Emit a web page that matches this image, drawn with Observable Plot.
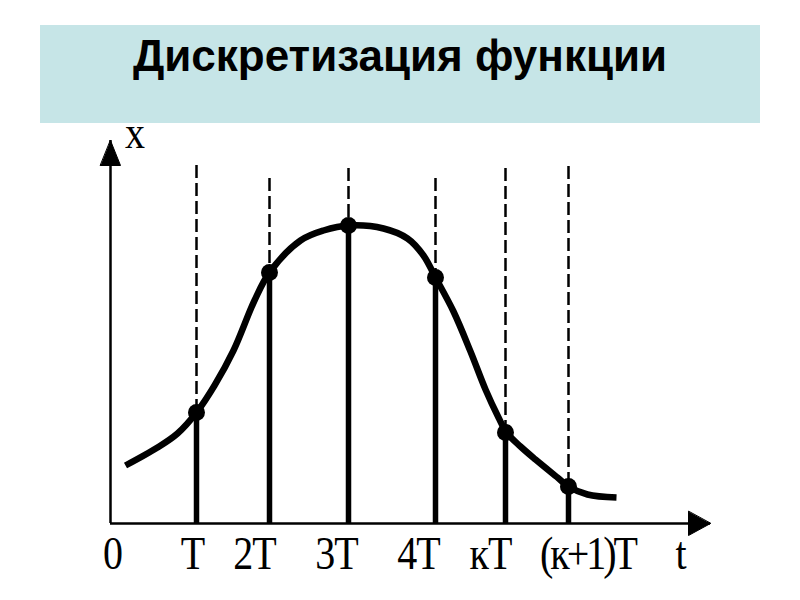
<!DOCTYPE html>
<html><head><meta charset="utf-8">
<script src="https://cdn.jsdelivr.net/npm/d3@7"></script>
<script src="https://cdn.jsdelivr.net/npm/@observablehq/plot@0.6"></script>
<style>
body{margin:0;background:#fff;width:800px;height:600px;overflow:hidden;position:relative}
#title{position:absolute;left:40px;top:25px;width:720px;height:92px;padding-top:6px;line-height:92px;background:#c6e5e7;text-align:center;font:bold 44px "Liberation Sans",Arial,sans-serif;color:#000;white-space:nowrap}
#chart svg{display:block}
</style></head><body>
<div id="chart"></div>
<div id="title">Дискретизация функции</div>
<script>
// sample instants (t) and sampled values x(t)
const sampleTimes  = [86, 159, 238, 325, 395, 458];
const sampleValues = [111, 251, 298, 246, 91, 37];
const guideTops    = [358, 345, 355, 345, 355, 357];
// continuous function x(t)
const curveT = [15, 47, 67, 86, 104, 123, 144, 159, 190, 213, 239, 273, 297, 313, 325, 343, 360, 375, 388, 396, 410, 425, 447, 458, 477, 506];
const curveX = [58, 76, 90, 111, 138, 173, 223, 251, 283, 293, 298, 295, 285, 268, 246, 212, 172, 134, 106, 91, 77, 64, 46, 37, 29, 26];
// tick labels on the t axis
const tickLabels    = ["0", "T", "2T", "3T", "4T", "кT", "(к+1)T"];
const tickPositions = [2, 82, 144, 226, 308, 380, 477];
const tDomain = [0, 600];
const xDomain = [0, 383];

const samples = sampleTimes.map((t, i) => ({t, v: sampleValues[i], top: guideTops[i]}));
const curve = curveT.map((t, i) => ({t, x: curveX[i]}));
const ticks = tickLabels.map((label, i) => ({label, pos: tickPositions[i]}));

const triangle = {
  draw(context, l, r) {
    context.moveTo(0, -l);
    context.lineTo(r, 0);
    context.lineTo(-r, 0);
    context.closePath();
  }
};

const serif = "'Liberation Serif','Times New Roman',serif";

const chart = Plot.plot({
  width: 800,
  height: 600,
  marginLeft: 110,
  marginRight: 90,
  marginTop: 140,
  marginBottom: 77,
  x: {domain: tDomain, axis: null},
  y: {domain: xDomain, axis: null},
  marks: [
    Plot.ruleX(samples, {x: "t", y1: "top", y2: 0, stroke: "#000", strokeWidth: 2.5, strokeDasharray: "13,5"}),
    Plot.ruleX([0], {stroke: "#000", strokeWidth: 2.5}),
    Plot.ruleY([0], {stroke: "#000", strokeWidth: 2.5}),
    Plot.vector([xDomain[1]], {x: 0, y: d => d, length: 25, r: 10, anchor: "end", shape: triangle, fill: "#000", stroke: "#000", strokeWidth: 1}),
    Plot.vector([tDomain[1]], {x: d => d, y: 0, length: 22, r: 12, rotate: 90, anchor: "end", shape: triangle, fill: "#000", stroke: "#000", strokeWidth: 1}),
    Plot.ruleX(samples, {x: "t", y1: 0, y2: "v", stroke: "#000", strokeWidth: 5.5}),
    Plot.line(curve, {x: "t", y: "x", curve: "catmull-rom", stroke: "#000", strokeWidth: 6.5, strokeLinecap: "butt", strokeLinejoin: "round"}),
    Plot.dot(samples, {x: "t", y: "v", r: 8.5, fill: "#000"}),
    Plot.text(ticks, {x: "pos", frameAnchor: "bottom", lineAnchor: "bottom", dy: 45, text: "label", fontFamily: serif, fontSize: 40, fill: "#000"}),
    Plot.text(["t"], {x: 570, frameAnchor: "bottom", lineAnchor: "bottom", dy: 45, text: d => d, fontFamily: serif, fontSize: 40, fill: "#000"}),
    Plot.text(["x"], {x: 24, y: 376, lineAnchor: "bottom", text: d => d, fontFamily: serif, fontSize: 40, fill: "#000"})
  ]
});
d3.select(chart).selectAll("text")
  .style("letter-spacing", function() {
    return this.textContent === "(к+1)T" ? "-3px" : "-1px";
  })
  .attr("transform", function() {
    const t = this.getAttribute("transform") || "";
    return t + " scale(1,1.14)";
  });
document.getElementById("chart").appendChild(chart);
</script>
</body></html>
